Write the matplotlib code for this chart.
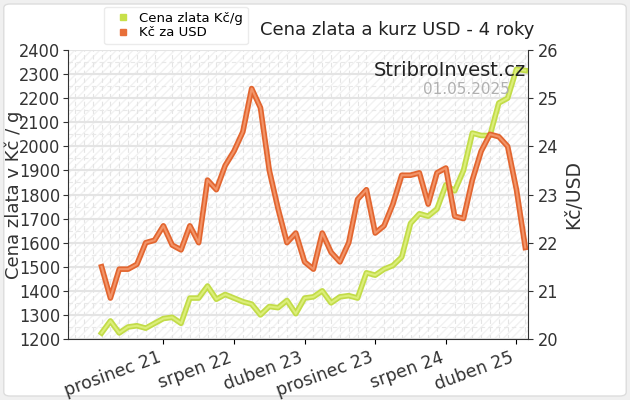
import matplotlib
matplotlib.use("Agg")
import matplotlib.pyplot as plt
import matplotlib.patheffects as pe
from matplotlib.patches import Rectangle, FancyBboxPatch
from matplotlib.lines import Line2D
from matplotlib import font_manager as fm
import numpy as np

gold = [1225,1275,1225,1250,1255,1245,1265,1285,1290,1265,1370,1370,1420,1365,1385,1370,1355,1345,1300,1335,
        1330,1360,1305,1370,1375,1400,1350,1375,1380,1370,1475,1465,1490,1505,1540,1680,1720,1710,1740,1840,
        1815,1900,2055,2045,2045,2180,2200,2320,2315]
usd = [21.5,20.85,21.45,21.45,21.55,22.0,22.05,22.35,21.95,21.85,22.35,22.0,23.3,23.1,23.6,23.9,24.3,25.2,24.8,23.5,
       22.7,22.0,22.2,21.6,21.45,22.2,21.8,21.6,22.0,22.9,23.1,22.2,22.35,22.8,23.4,23.4,23.45,22.8,23.45,23.55,
       22.55,22.5,23.3,23.9,24.25,24.2,24.0,23.1,21.9]
tick_idx = [7,15,23,31,39,47]
tick_labels = ["prosinec 21","srpen 22","duben 23","prosinec 23","srpen 24","duben 25"]

names = {f.name for f in fm.fontManager.ttflist}
narrow = "Liberation Sans Narrow" if "Liberation Sans Narrow" in names else "DejaVu Sans"
tfp = fm.FontProperties(family=narrow, stretch="condensed", size=13)

x = np.arange(len(gold))
fig = plt.figure(figsize=(6.3,4), dpi=100, facecolor="#f0f0f0")
bg = FancyBboxPatch((0.006,0.01),0.988,0.98,boxstyle="round,pad=0,rounding_size=0.01",
                    transform=fig.transFigure,facecolor="white",edgecolor="#dddddd",lw=1,zorder=-10)
fig.add_artist(bg)
ax = fig.add_axes([0.108,0.1525,0.73,0.7225])
ax.set_facecolor("white")
ax.add_patch(Rectangle((0,0),1,1,transform=ax.transAxes,facecolor="none",hatch="////",edgecolor="#f2f2f2",lw=0,zorder=0))
ax.set_xlim(-3.8,48.3)
ax.set_ylim(1200,2400)
ax.set_yticks(np.arange(1200,2401,100))
ax.set_yticks(np.arange(1250,2400,100),minor=True)
ax.set_xticks(tick_idx)
ax.set_xticklabels(tick_labels,rotation=20,ha="right",fontsize=12.5,color="#333")
ax.set_xticks(np.arange(-3,49),minor=True)
ax.tick_params(axis="y",colors="#333",pad=2)
ax.tick_params(axis="y",which="minor",length=0)
ax.tick_params(axis="x",which="minor",length=0)
for lab in ax.get_yticklabels():
    lab.set_fontproperties(tfp)
ax.grid(True,which="major",axis="y",color="#e4e4e4",lw=1.5)
ax.grid(True,which="minor",axis="y",color="#e8e8e8",lw=0.8,ls=(0,(4,3)))
ax.grid(True,which="minor",axis="x",color="#e4e4e4",lw=0.8,ls=(0,(4,3)))
ax.set_axisbelow(True)
for s in ["top","right"]:
    ax.spines[s].set_visible(False)
ax.spines["left"].set_color("#333"); ax.spines["bottom"].set_color("#333")
fig.text(0.022,0.5125,"Cena zlata v Kč / g",rotation=90,ha="center",va="center",fontsize=13,color="#333")

ax2 = ax.twinx()
ax2.set_ylim(20,26)
ax2.set_yticks(range(20,27))
ax2.tick_params(axis="y",colors="#333")
for lab in ax2.get_yticklabels():
    lab.set_fontproperties(tfp)
for s in ["top","left","bottom"]:
    ax2.spines[s].set_visible(False)
ax2.spines["right"].set_color("#333")
ax2.set_ylabel("Kč/USD",fontsize=13.5,color="#333")

ax.plot(x,gold,color="#dcee7a",lw=1.5,zorder=3,
        path_effects=[pe.Stroke(linewidth=4,foreground="#c2dc48"),pe.Normal()])
ax2.plot(x,usd,color="#f29468",lw=1.5,zorder=3,
         path_effects=[pe.Stroke(linewidth=4,foreground="#e2652f"),pe.Normal()])

ax.text(0.995,0.93,"StribroInvest.cz",transform=ax.transAxes,ha="right",va="center",fontsize=14,color="#222")
ax.text(0.96,0.865,"01.05.2025",transform=ax.transAxes,ha="right",va="center",fontsize=11,color="#b0b0b0")
fig.text(0.63,0.925,"Cena zlata a kurz USD - 4 roky",ha="center",va="center",fontsize=13,color="#222")

h = [Line2D([],[],color="#c8e04a",marker="s",ls="none",markersize=5),
     Line2D([],[],color="#e8703a",marker="s",ls="none",markersize=5)]
leg = fig.legend(h,["Cena zlata Kč/g","Kč za USD"],loc="upper left",bbox_to_anchor=(0.155,1.0),
                 fontsize=9.5,frameon=True,handletextpad=0.2,labelspacing=0.1,borderpad=0.4,fancybox=True)
leg.get_frame().set_edgecolor("#e6e6e6")
fig.savefig("out.png",dpi=100,facecolor=fig.get_facecolor())
